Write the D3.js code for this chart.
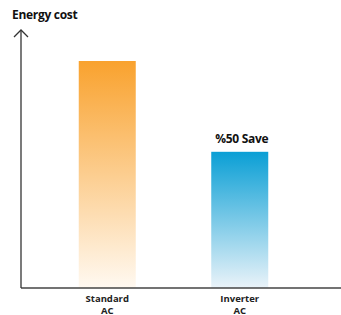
<!DOCTYPE html>
<html><head><meta charset="utf-8">
<script src="https://cdn.jsdelivr.net/npm/d3@7/dist/d3.min.js"></script>
<style>body{margin:0;background:#fff}svg{display:block}</style>
</head><body>
<svg id="c" width="341" height="315"></svg>
<script>
const categories = ["Standard AC", "Inverter AC"];
const values = [100, 60];
const annotation = ["", "%50 Save"];
const yTitle = "Energy cost";

const svg = d3.select("#c");
const x0 = 21, yBase = 288, yTop = 30;
const x = d3.scaleLinear().domain([0, 2]).range([41, 306]);
const y = d3.scaleLinear().domain([0, 100]).range([yBase, 61]);
const barW = 57;
const colors = [["#F9A22E", "#FFF9F1"], ["#0A9FD5", "#EAF3F9"]];

const defs = svg.append("defs");
colors.forEach((c, i) => {
  const g = defs.append("linearGradient").attr("id", "g" + i)
    .attr("x1", 0).attr("y1", 0).attr("x2", 0).attr("y2", 1);
  g.append("stop").attr("offset", "0%").attr("stop-color", c[0]);
  g.append("stop").attr("offset", "100%").attr("stop-color", c[1]);
});

svg.selectAll("rect.bar").data(values).join("rect").attr("class", "bar")
  .attr("x", (d, i) => x(i + 0.5) - barW / 2)
  .attr("y", d => y(d))
  .attr("width", barW)
  .attr("height", d => yBase - y(d))
  .attr("fill", (d, i) => `url(#g${i})`);

// axes
svg.append("line").attr("x1", x0).attr("x2", 341).attr("y1", yBase).attr("y2", yBase)
  .attr("stroke", "#444").attr("stroke-width", 1.5);
svg.append("line").attr("x1", x0).attr("x2", x0).attr("y1", yTop).attr("y2", yBase)
  .attr("stroke", "#333").attr("stroke-width", 1.3);
svg.append("path").attr("d", `M${x0-7},${yTop+7}L${x0},${yTop}L${x0+7},${yTop+7}`)
  .attr("fill", "none").attr("stroke", "#333").attr("stroke-width", 1.3);

svg.append("text").attr("x", 12).attr("y", 19).text(yTitle)
  .attr("font-family", "Open Sans, sans-serif").attr("font-weight", "bold")
  .attr("font-size", 12).attr("fill", "#111").attr("letter-spacing", "-0.3");

svg.selectAll("text.ann").data(values).join("text").attr("class", "ann")
  .attr("x", (d, i) => x(i + 0.5) + 2)
  .attr("y", d => y(d) - 9)
  .attr("text-anchor", "middle")
  .attr("font-family", "Open Sans, sans-serif").attr("font-weight", "bold")
  .attr("font-size", 12).attr("fill", "#111").attr("letter-spacing", "-0.3")
  .text((d, i) => annotation[i]);

categories.forEach((c, i) => {
  const parts = c.split(" ");
  parts.forEach((p, j) => svg.append("text").attr("text-anchor", "middle")
    .attr("font-family", "Open Sans, sans-serif").attr("font-weight", "bold")
    .attr("font-size", 9.5).attr("fill", "#222")
    .attr("x", x(i + 0.5)).attr("y", 302 + j * 11.5).text(p));
});
</script>
</body></html>
